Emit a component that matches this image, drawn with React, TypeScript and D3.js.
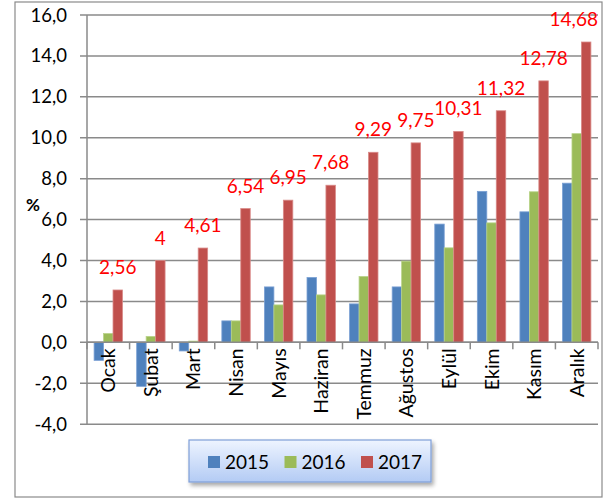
import React from "react";
import * as d3 from "d3";

const months = ["Ocak", "Şubat", "Mart", "Nisan", "Mayıs", "Haziran", "Temmuz", "Ağustos", "Eylül", "Ekim", "Kasım", "Aralık"];
const series = ["2015", "2016", "2017"];
const v2015 = [-0.88, -2.15, -0.42, 1.05, 2.71, 3.17, 1.88, 2.71, 5.78, 7.38, 6.38, 7.78];
const v2016 = [0.43, 0.29, 0.06, 1.05, 1.83, 2.32, 3.22, 3.97, 4.62, 5.84, 7.36, 10.2];
const v2017 = [2.56, 4, 4.61, 6.54, 6.95, 7.68, 9.29, 9.75, 10.31, 11.32, 12.78, 14.68];
const yTicks = [-4, -2, 0, 2, 4, 6, 8, 10, 12, 14, 16];
const colors = ["#4F81BD", "#9BBB59", "#C0504D"];
const strokes = ["#7aa0d4", "#b8d389", "#d98a88"];

const FONT = "Lato, 'Open Sans', sans-serif";

export default function App() {
  const left = 87, right = 598, top = 15, bottom = 424.2;
  const x = d3.scaleBand<string>().domain(months).range([left, right]).paddingInner(1 / 3).paddingOuter(1 / 6);
  const xs = d3.scaleBand<string>().domain(series).range([0, x.bandwidth()]).padding(0);
  const y = d3.scaleLinear().domain([-4, 16]).range([bottom, top]);
  const data = [v2015, v2016, v2017];
  const step = x.step();
  const fmt = (v: number) => String(v).replace(".", ",");
  const labelFs = 19;
  const estW = (s: string) => s.split("").reduce((a, c) => a + (c === "," ? 0.23 : 0.58) * labelFs, 0);

  return (
    <svg width={606} height={499} style={{ position: "absolute", left: 0, top: 0, background: "#fff" }} fontFamily={FONT}>
      <defs>
        <linearGradient id="lg" x1="0" y1="0" x2="0" y2="1">
          <stop offset="0" stopColor="#eef4ff" />
          <stop offset="1" stopColor="#b3cbf4" />
        </linearGradient>
        <filter id="sh" x="-10%" y="-30%" width="130%" height="180%">
          <feGaussianBlur in="SourceAlpha" stdDeviation="2" />
          <feOffset dx="2" dy="3" result="b" />
          <feComponentTransfer><feFuncA type="linear" slope="0.35" /></feComponentTransfer>
          <feMerge><feMergeNode /><feMergeNode in="SourceGraphic" /></feMerge>
        </filter>
      </defs>
      <rect x={15} y={2} width={587} height={495} fill="#fff" stroke="#8a8a8a" strokeWidth={1.2} />
      {/* gridlines */}
      {yTicks.map((t) => (
        <g key={t}>
          <line x1={left - 7} x2={right} y1={y(t)} y2={y(t)} stroke="#8a8a8a" strokeWidth={1.5} />
          <text x={67} y={y(t) + 6.5} textAnchor="end" fontSize={18.5} fill="#000">{t.toFixed(1).replace(".", ",")}</text>
        </g>
      ))}
      <line x1={left} x2={left} y1={top} y2={bottom} stroke="#8a8a8a" strokeWidth={1.5} />
      <text x={33} y={211} textAnchor="middle" fontSize={17} fontWeight="bold" fill="#000">%</text>
      {/* bars */}
      {months.map((m, i) => (
        <g key={m}>
          {data.map((vals, s) => {
            const v = vals[i];
            const bx = (x(m) as number) + (xs(series[s]) as number);
            return (
              <rect key={s} x={bx} width={xs.bandwidth()} y={Math.min(y(v), y(0))} height={Math.abs(y(v) - y(0))}
                fill={colors[s]} stroke={strokes[s]} strokeWidth={0.8} />
            );
          })}
        </g>
      ))}
      {/* x axis */}
      <line x1={left} x2={right} y1={y(0)} y2={y(0)} stroke="#8a8a8a" strokeWidth={1.5} />
      {d3.range(months.length + 1).map((k) => (
        <line key={k} x1={left + k * step} x2={left + k * step} y1={y(0)} y2={y(0) + 7} stroke="#8a8a8a" strokeWidth={1.5} />
      ))}
      {months.map((m) => {
        const cx = (x(m) as number) + x.bandwidth() / 2;
        return (
          <text key={m} transform={`translate(${cx + 7},${y(0) + 6}) rotate(-90)`} textAnchor="end" fontSize={19.5} fill="#000">{m}</text>
        );
      })}
      {/* data labels */}
      {months.map((m, i) => {
        const v = v2017[i];
        const s = fmt(v);
        let cx = (x(m) as number) + (xs("2017") as number) + xs.bandwidth() / 2;
        const w = estW(s);
        if (cx + w / 2 > right) cx = right - w / 2;
        return (
          <text key={m} x={cx} y={y(v) - 16} textAnchor="middle" fontSize={labelFs} fill="#FF0000">{s}</text>
        );
      })}
      {/* legend */}
      <g>
        <rect x={189} y={440} width={242} height={42} fill="url(#lg)" stroke="#7f9fd8" strokeWidth={1.2} filter="url(#sh)" />
        {series.map((s, k) => (
          <g key={s} transform={`translate(${208 + k * 76.5},456)`}>
            <rect x={0} y={0} width={12} height={12} fill={colors[k]} />
            <text x={17} y={12.5} fontSize={19} fill="#000">{s}</text>
          </g>
        ))}
      </g>
    </svg>
  );
}
